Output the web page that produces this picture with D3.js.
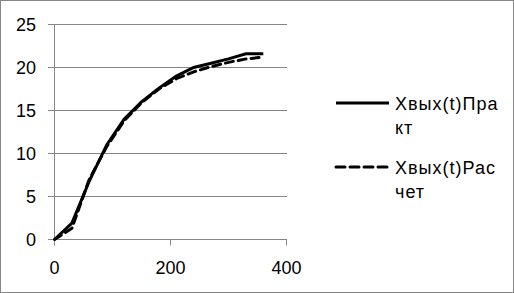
<!DOCTYPE html>
<html lang="ru">
<head>
<meta charset="UTF-8">
<script src="https://d3js.org/d3.v7.min.js"></script>
<style>
  body { margin: 0; background: #fff; }
  svg { display: block; font-family: "Liberation Sans", Arial, sans-serif; }
</style>
</head>
<body>
<svg width="514" height="293"></svg>
<script>
  // time, s
  const tValues = [0, 30, 60, 90, 120, 150, 180, 210, 240, 270, 300, 330, 360];
  // Хвых(t) практический
  const praktValues = [0, 1.9, 6.8, 11, 14, 16, 17.6, 19, 20, 20.5, 21, 21.6, 21.6];
  // Хвых(t) расчётный
  const raschetValues = [0, 1.3, 7, 10.8, 13.8, 15.9, 17.5, 18.7, 19.5, 20.1, 20.6, 21, 21.2];
  const seriesNames = ["Xвых(t)Пра|кт", "Xвых(t)Рас|чет"];
  const xTicks = [0, 200, 400];
  const yTicks = [0, 5, 10, 15, 20, 25];

  const svg = d3.select("svg");
  const gridColor = "#868686";

  svg.append("rect")
    .attr("x", 0.5).attr("y", 0.5)
    .attr("width", 513).attr("height", 292)
    .attr("fill", "#fff").attr("stroke", "#868686");

  const x = d3.scaleLinear().domain([0, 400]).range([54.5, 286.5]);
  const y = d3.scaleLinear().domain([0, 25]).range([239.5, 24.5]);

  // horizontal gridlines + left ticks
  svg.append("g").selectAll("line").data(yTicks).join("line")
    .attr("x1", 48).attr("x2", 287)
    .attr("y1", d => y(d)).attr("y2", d => y(d))
    .attr("stroke", gridColor).attr("stroke-width", 1);

  svg.append("g").selectAll("text").data(yTicks).join("text")
    .attr("x", 36).attr("y", d => y(d) + 6)
    .attr("text-anchor", "end").attr("font-size", 18).attr("fill", "#000")
    .text(d => d);

  // y axis line
  svg.append("line")
    .attr("x1", x(0)).attr("x2", x(0))
    .attr("y1", y(25)).attr("y2", y(0) + 6)
    .attr("stroke", gridColor);

  // x ticks
  svg.append("g").selectAll("line").data(xTicks).join("line")
    .attr("x1", d => x(d)).attr("x2", d => x(d))
    .attr("y1", y(0)).attr("y2", y(0) + 6)
    .attr("stroke", gridColor);

  svg.append("g").selectAll("text").data(xTicks).join("text")
    .attr("x", d => x(d)).attr("y", 274)
    .attr("text-anchor", "middle").attr("font-size", 18).attr("fill", "#000")
    .text(d => d);

  const line = d3.line().x(d => x(d[0])).y(d => y(d[1]));

  svg.append("path")
    .datum(tValues.map((t, i) => [t, raschetValues[i]]))
    .attr("d", line)
    .attr("fill", "none").attr("stroke", "#000").attr("stroke-width", 3)
    .attr("stroke-dasharray", "8,5").attr("stroke-linecap", "round");

  svg.append("path")
    .datum(tValues.map((t, i) => [t, praktValues[i]]))
    .attr("d", line)
    .attr("fill", "none").attr("stroke", "#000").attr("stroke-width", 3);

  // legend
  const legendY = [103, 167];
  seriesNames.forEach((name, i) => {
    const g = svg.append("g");
    const l = g.append("line")
      .attr("x1", 336).attr("x2", 389)
      .attr("y1", legendY[i]).attr("y2", legendY[i])
      .attr("stroke", "#000").attr("stroke-width", 3);
    if (i === 1) l.attr("stroke-dasharray", "9,5").attr("stroke-linecap", "round");
    const parts = name.split("|");
    parts.forEach((p, j) => {
      g.append("text")
        .attr("x", 395).attr("y", legendY[i] + 7 + j * 24)
        .attr("font-size", 18).attr("letter-spacing", 1).attr("fill", "#000")
        .text(p);
    });
  });
</script>
</body>
</html>
